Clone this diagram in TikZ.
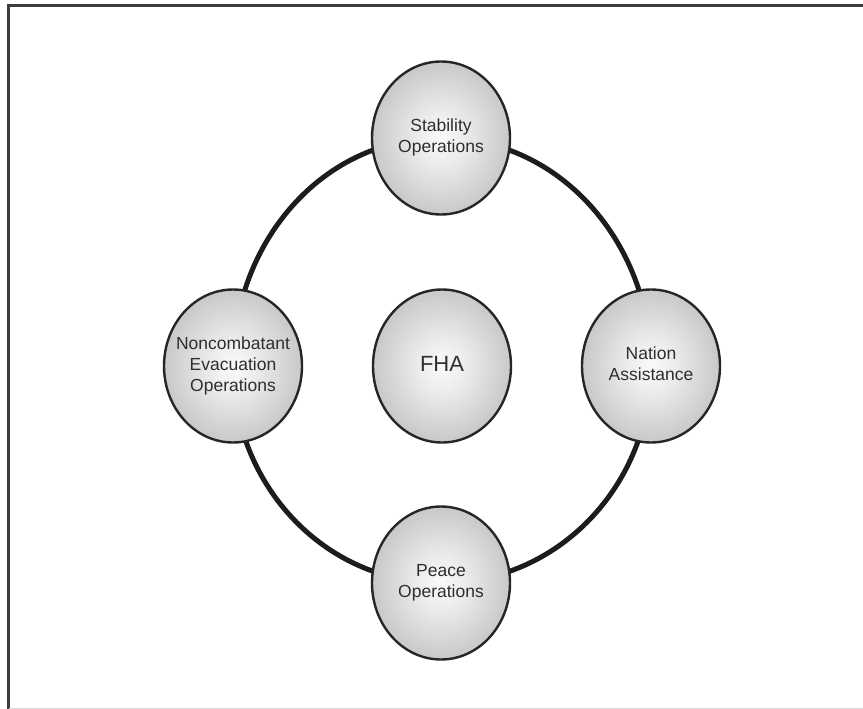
\documentclass[tikz,border=0pt]{standalone}
\usepackage{fontspec}
\setmainfont{Liberation Sans}
\usetikzlibrary{shapes.geometric,backgrounds}

\definecolor{inkgray}{HTML}{2E2E2E}
\definecolor{rimgray}{HTML}{262626}
\definecolor{ringgray}{HTML}{1C1C1C}
\definecolor{framegray}{HTML}{3C3C3C}
\definecolor{edgegray}{HTML}{D8D8D8}

% soft ball shading: bright centre fading to mid grey at the rim
\pgfdeclareradialshading{orb}{\pgfpoint{0bp}{0bp}}{%
  color(0bp)=(white!98!black);
  color(8bp)=(white!93!black);
  color(28bp)=(white!76!black);
  color(50bp)=(white!54!black)}

% label set in a zero-width box so the bubble keeps its own size
\newcommand{\orblabel}[1]{\makebox[0pt][c]{\begin{tabular}{@{}c@{}}#1\end{tabular}}}

\tikzset{
  orbnode/.style={ellipse, shading=orb, draw=rimgray, line width=2.4pt,
    minimum width=138pt, minimum height=153pt, inner sep=0pt,
    text=inkgray,
    font=\fontsize{17.5pt}{21pt}\selectfont},
  hubnode/.style={orbnode, font=\fontsize{22pt}{26pt}\selectfont},
  ringline/.style={draw=ringgray, line width=5pt},
  frameline/.style={draw=framegray, line width=3pt}
}

\begin{document}
\begin{tikzpicture}[x=1pt, y=-1pt]
  \useasboundingbox (0,0) rectangle (863,709);

  % page frame (left and top edges)
  \draw[frameline] (8.5,720) -- (8.5,5.5) -- (875,5.5);
  \draw[draw=edgegray, line width=1pt] (8.5,708) -- (863,708);

  % the five operation bubbles
  \node[orbnode] (stab)  at (441,138) {\orblabel{Stability\\Operations}};
  \node[orbnode] (neo)   at (233,366) {\orblabel{Noncombatant\\Evacuation\\Operations}};
  \node[hubnode] (fha)   at (442,366) {\orblabel{FHA}};
  \node[orbnode] (nat)   at (651,366) {\orblabel{Nation\\Assistance}};
  \node[orbnode] (peace) at (441,583) {\orblabel{Peace\\Operations}};

  % ring joining the outer bubbles, kept behind them
  \begin{pgfonlayer}{background}
    \draw[ringline] (stab.center) to[out=180, in=90] (neo.center)
                    to[out=-90, in=180] (peace.center)
                    to[out=0, in=-90] (nat.center)
                    to[out=90, in=0] (stab.center);
  \end{pgfonlayer}
\end{tikzpicture}
\end{document}
